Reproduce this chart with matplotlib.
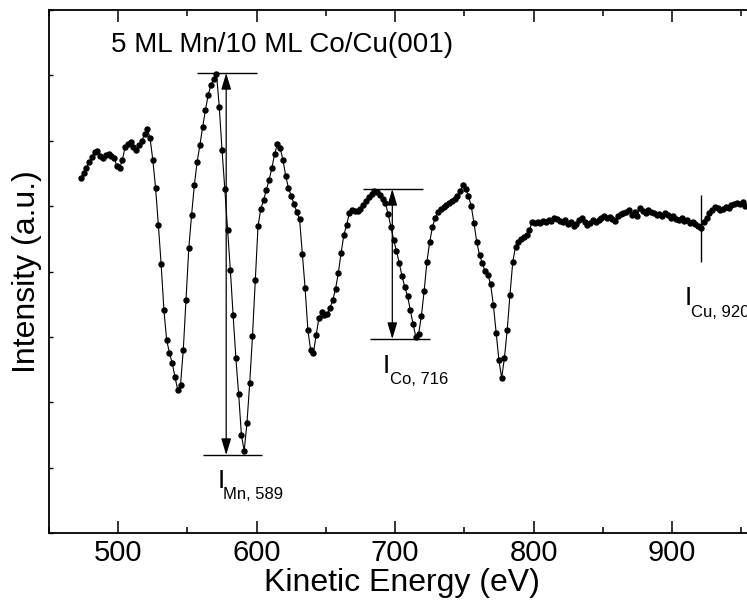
import numpy as np
import matplotlib.pyplot as plt
from matplotlib.ticker import MultipleLocator

plt.rcParams['font.family'] = ['Liberation Sans', 'DejaVu Sans']

# Auger spectrum, 2 eV steps
energy = np.arange(473, 954, 2)
intensity = [
    355, 360, 365, 371, 376, 381, 382, 377, 375, 378,
    379, 377, 375, 367, 365, 373, 386, 389, 391, 386,
    383, 388, 392, 399, 404, 395, 373, 345, 308, 269,
    223, 193, 180, 170, 156, 143, 148, 183, 233, 285,
    318, 348, 371, 388, 406, 423, 438, 448, 454, 459,
    426, 383, 344, 303, 263, 218, 175, 139, 98, 82,
    110, 150, 197, 253, 307, 324, 333, 343, 353, 365,
    379, 389, 385, 373, 357, 345, 337, 329, 321, 314,
    279, 245, 203, 183, 180, 198, 215, 221, 218, 219,
    225, 233, 244, 260, 280, 298, 308, 320, 323, 322,
    322, 324, 328, 332, 336, 339, 342, 341, 338, 334,
    330, 319, 306, 293, 282, 270, 257, 246, 237, 223,
    209, 196, 199, 217, 242, 271, 291, 306, 315, 321,
    324, 326, 328, 330, 332, 334, 337, 342, 348, 344,
    337, 327, 310, 291, 278, 270, 262, 258, 249, 228,
    200, 173, 155, 175, 203, 238, 271, 286, 291, 294,
    296, 298, 303, 311, 310, 311, 310, 312, 311, 313,
    312, 315, 314, 312, 311, 313, 309, 311, 307, 309,
    313, 315, 311, 308, 310, 313, 311, 313, 315, 317,
    315, 316, 314, 312, 317, 319, 320, 321, 323, 318,
    321, 317, 325, 322, 320, 323, 321, 320, 318, 319,
    317, 320, 318, 315, 317, 314, 313, 315, 312, 313,
    310, 311, 309, 307, 305, 311, 315, 320, 323, 326,
    325, 323, 324, 326, 325, 328, 329, 330, 329, 331,
    327,
]

# peak-to-peak markers
mn_e, mn_top, mn_bot = 578, 460, 78
mn_top_span, mn_bot_span = (557, 600), (561.5, 604)
co_e, co_top, co_bot = 698, 344, 194
co_top_span, co_bot_span = (677, 720), (682, 725)
cu_e, cu_span = 921, (271, 338)

fig = plt.figure(figsize=(7.47, 6.0), dpi=100)
ax = fig.add_axes([49 / 747, 67 / 600, 0.9451, 523 / 600])

ax.plot(energy, intensity, '-o', color='black', lw=0.8, ms=3.6)

# Mn and Co peak-to-peak amplitudes
for e, top, bot, tspan, bspan in [(mn_e, mn_top, mn_bot, mn_top_span, mn_bot_span),
                                  (co_e, co_top, co_bot, co_top_span, co_bot_span)]:
    ax.hlines(top, *tspan, color='black', lw=1.0)
    ax.hlines(bot, *bspan, color='black', lw=1.0)
    ax.annotate('', xy=(e, top), xytext=(e, bot),
                arrowprops=dict(arrowstyle='<|-|>,head_length=1.0,head_width=0.3',
                                color='black', lw=0.9, shrinkA=0, shrinkB=0,
                                mutation_scale=10))
ax.vlines(cu_e, *cu_span, color='black', lw=1.0)

ax.text(495, 481, '5 ML Mn/10 ML Co/Cu(001)', fontsize=20, va='baseline')
for ex, yi, ey, ys, sub in [(571.6, 45, 575.9, 34, 'Mn, 589'),
                            (690.9, 160, 696.0, 149, 'Co, 716'),
                            (909.5, 228, 914.0, 216, 'Cu, 920')]:
    ax.text(ex, yi, 'I', fontsize=19, va='baseline')
    ax.text(ey, ys, sub, fontsize=12, va='baseline')

ax.set_xlim(450, 960)
ax.set_ylim(0, 523)
ax.xaxis.set_major_locator(MultipleLocator(100))
ax.xaxis.set_minor_locator(MultipleLocator(50))
ax.yaxis.set_major_locator(MultipleLocator(65.375))
ax.tick_params(axis='x', which='major', direction='in', length=8.5, width=1.1,
               top=True, labelsize=21, pad=4)
ax.tick_params(axis='x', which='minor', direction='in', length=4.5, width=1.1, top=True)
ax.tick_params(axis='y', which='major', direction='in', length=3, width=1.0,
               labelleft=False)
for s in ax.spines.values():
    s.set_linewidth(1.3)

ax.set_xlabel('Kinetic Energy (eV)', fontsize=23, labelpad=1)
ax.set_ylabel('Intensity (a.u.)', fontsize=23, labelpad=5)

fig.savefig('out.png', dpi=100)
